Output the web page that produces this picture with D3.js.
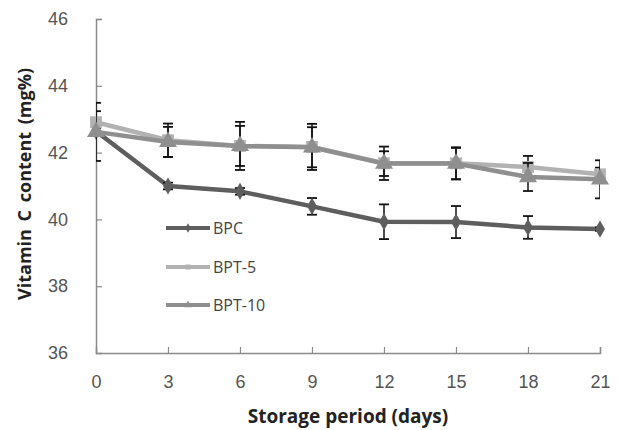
<!DOCTYPE html>
<html>
<head>
<meta charset="utf-8">
<script src="https://cdn.jsdelivr.net/npm/d3@7"></script>
<style>
body { margin: 0; background: #fff; }
</style>
</head>
<body>
<div id="chart"></div>
<script>
var days = [0, 3, 6, 9, 12, 15, 18, 21];
var yTicks = [36, 38, 40, 42, 44, 46];

var bpc = [42.64, 41.0, 40.84, 40.39, 39.93, 39.92, 39.76, 39.71];
var bpcErr = [0.1, 0.1, 0.1, 0.25, 0.52, 0.48, 0.34, 0.05];
var bpt5 = [42.91, 42.37, 42.2, 42.17, 41.68, 41.68, 41.57, 41.35];
var bpt5Err = [0.33, 0.5, 0.72, 0.69, 0.5, 0.48, 0.33, 0.2];
var bpt10 = [42.62, 42.32, 42.2, 42.16, 41.67, 41.67, 41.27, 41.2];
var bpt10Err = [0.87, 0.45, 0.6, 0.6, 0.37, 0.47, 0.42, 0.57];

var seriesNames = ["BPC", "BPT-5", "BPT-10"];
var seriesColors = ["#5e5e5e", "#b2b2b2", "#8f8f8f"];
var seriesShapes = [d3.symbolDiamond, d3.symbolSquare, d3.symbolTriangle];

var w = 619, h = 430;

var svg = d3.select("#chart").append("svg")
	.attr("width", w)
	.attr("height", h)
	.style("font-family", "'Open Sans', 'Noto Sans', sans-serif");

var x = d3.scaleLinear().domain([0, 21]).range([96, 600]);
var y = d3.scaleLinear().domain([36, 46]).range([353, 19]);

svg.append("clipPath")
	.attr("id", "clip")
	.append("rect")
	.attr("x", 96).attr("y", 0)
	.attr("width", 504).attr("height", 353);

// axes
var yAxis = d3.axisLeft(y).tickValues(yTicks).tickSize(-6).tickPadding(28);
var xAxis = d3.axisBottom(x).tickValues(days).tickSize(-6).tickPadding(22);

var gy = svg.append("g").attr("transform", "translate(96,0)").call(yAxis);
var gx = svg.append("g").attr("transform", "translate(0,353)").call(xAxis);

[gx, gy].forEach(function (g) {
	g.select(".domain").attr("stroke", "#8a8a8a").attr("stroke-width", 1.5);
	g.selectAll(".tick line").attr("stroke", "#8a8a8a").attr("stroke-width", 1.2);
	g.selectAll(".tick text").attr("fill", "#555").style("font-size", "18px");
});
gx.selectAll(".tick line").filter(function (d) { return d == 0; }).remove();
gy.selectAll(".tick line").filter(function (d) { return d == 36; }).remove();

svg.append("text")
	.attr("x", 348).attr("y", 423)
	.attr("text-anchor", "middle")
	.style("font-size", "19px").style("font-weight", "bold")
	.attr("fill", "#222")
	.text("Storage period (days)");

svg.append("text")
	.attr("transform", "translate(31,184) rotate(-90)")
	.attr("text-anchor", "middle")
	.style("font-size", "18px").style("font-weight", "bold")
	.style("word-spacing", "3px")
	.attr("fill", "#222")
	.text("Vitamin C content (mg%)");

var allData = [bpc, bpt5, bpt10];
var allErr = [bpcErr, bpt5Err, bpt10Err];

var line = d3.line()
	.x(function (d, i) { return x(days[i]); })
	.y(function (d) { return y(d); });

allData.forEach(function (vals, s) {
	var g = svg.append("g");
	g.append("path")
		.attr("d", line(vals))
		.attr("fill", "none")
		.attr("stroke", seriesColors[s])
		.attr("stroke-width", 4.5)
		.attr("stroke-linejoin", "round");

	// error bars
	var eb = g.append("g").attr("clip-path", "url(#clip)")
		.selectAll("g").data(vals).enter().append("g");
	eb.append("line")
		.attr("x1", function (d, i) { return x(days[i]); })
		.attr("x2", function (d, i) { return x(days[i]); })
		.attr("y1", function (d, i) { return y(d + allErr[s][i]); })
		.attr("y2", function (d, i) { return y(d - allErr[s][i]); })
		.attr("stroke", "#111").attr("stroke-width", 1.5);
	[1, -1].forEach(function (sign) {
		eb.append("line")
			.attr("x1", function (d, i) { return x(days[i]) - 5; })
			.attr("x2", function (d, i) { return x(days[i]) + 5; })
			.attr("y1", function (d, i) { return y(d + sign * allErr[s][i]); })
			.attr("y2", function (d, i) { return y(d + sign * allErr[s][i]); })
			.attr("stroke", "#111").attr("stroke-width", 1.8);
	});

	g.selectAll("path.m").data(vals).enter().append("path")
		.attr("class", "m")
		.attr("transform", function (d, i) { return "translate(" + x(days[i]) + "," + y(d) + ")"; })
		.attr("d", d3.symbol().type(seriesShapes[s]).size(s == 0 ? 85 : 140))
		.attr("fill", seriesColors[s]);
});

// legend
var legY = [228, 267, 305];
seriesNames.forEach(function (name, s) {
	svg.append("line")
		.attr("x1", 166).attr("x2", 210)
		.attr("y1", legY[s]).attr("y2", legY[s])
		.attr("stroke", seriesColors[s]).attr("stroke-width", 4);
	svg.append("path")
		.attr("transform", "translate(188," + legY[s] + ")")
		.attr("d", d3.symbol().type(seriesShapes[s]).size(25))
		.attr("fill", seriesColors[s]);
	svg.append("text")
		.attr("x", 213).attr("y", legY[s] + 6)
		.style("font-size", "16px")
		.attr("fill", "#444")
		.text(name);
});
</script>
</body>
</html>
